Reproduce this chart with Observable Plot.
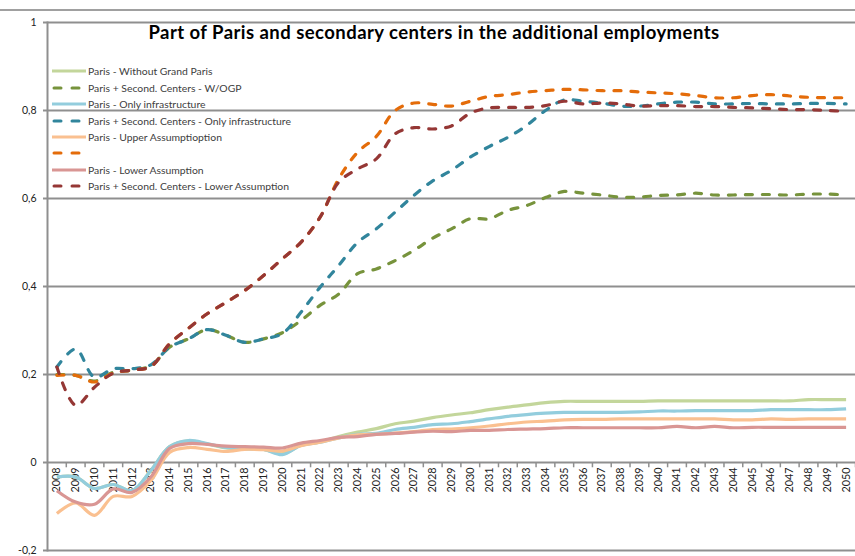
<!DOCTYPE html>
<html>
<head>
<meta charset="utf-8">
<script src="https://cdn.jsdelivr.net/npm/d3@7"></script>
<script src="https://cdn.jsdelivr.net/npm/@observablehq/plot@0.6"></script>
<style>
  html, body { margin: 0; padding: 0; background: #fff; }
  #wrap { position: relative; width: 855px; height: 556px; overflow: hidden; font-family: Lato, "Open Sans", sans-serif; }
  #border { position: absolute; left: 0; top: 9px; width: 855px; height: 0; border-top: 2px solid #a0a0a0; }
  #title { position: absolute; left: 0; top: 21px; width: 868px; text-align: center; font-weight: bold; font-size: 18.5px; letter-spacing: 0.45px; color: #000; }
  #legend { position: absolute; left: 52px; top: 63px; font-size: 10.4px; color: #404040; }
  .row { height: 16.45px; display: flex; align-items: center; white-space: nowrap; }
  .row svg { margin-right: 2px; }
</style>
</head>
<body>
<div id="wrap">
  <div id="chart"></div>
  <div id="border"></div>
  <div id="title"></div>
  <div id="legend"></div>
</div>
<script>
const title = "Part of Paris and secondary centers in the additional employments";

const years = ["2008","2009","2010","2011","2012","2013","2014","2015","2016","2017","2018","2019","2020","2021","2022","2023","2024","2025","2026","2027","2028","2029","2030","2031","2032","2033","2034","2035","2036","2037","2038","2039","2040","2041","2042","2043","2044","2045","2046","2047","2048","2049","2050"];

const yTicks = [-0.2, 0, 0.2, 0.4, 0.6, 0.8, 1];

const seriesNames = [
  "Paris - Without Grand Paris",
  "Paris + Second. Centers - W/OGP",
  "Paris - Only infrastructure",
  "Paris + Second. Centers - Only infrastructure",
  "Paris - Upper Assumptioption",
  "",
  "Paris - Lower Assumption",
  "Paris + Second. Centers - Lower Assumption"
];

const parisWithoutGP = [-0.033,-0.033,-0.059,-0.05,-0.064,-0.018,0.036,0.049,0.042,0.033,0.031,0.03,0.02,0.039,0.047,0.059,0.069,0.077,0.088,0.094,0.102,0.108,0.113,0.12,0.126,0.131,0.136,0.139,0.139,0.139,0.139,0.139,0.14,0.14,0.14,0.14,0.14,0.14,0.14,0.14,0.143,0.143,0.143];
const secondWOGP = [0.2,0.198,0.185,0.205,0.21,0.22,0.262,0.281,0.302,0.289,0.273,0.281,0.295,0.323,0.357,0.383,0.429,0.44,0.459,0.482,0.51,0.531,0.554,0.554,0.573,0.584,0.602,0.616,0.612,0.608,0.603,0.603,0.607,0.608,0.612,0.608,0.608,0.609,0.609,0.608,0.61,0.61,0.608];
const parisOnlyInfra = [-0.033,-0.033,-0.059,-0.05,-0.064,-0.018,0.036,0.05,0.043,0.034,0.031,0.03,0.018,0.039,0.046,0.056,0.064,0.066,0.075,0.08,0.086,0.088,0.093,0.099,0.105,0.109,0.112,0.114,0.114,0.114,0.114,0.115,0.117,0.117,0.118,0.118,0.118,0.118,0.12,0.12,0.12,0.12,0.122];
const secondOnlyInfra = [0.217,0.258,0.194,0.213,0.213,0.222,0.262,0.281,0.302,0.289,0.273,0.281,0.293,0.342,0.398,0.448,0.5,0.531,0.569,0.607,0.64,0.664,0.694,0.718,0.739,0.766,0.8,0.824,0.821,0.817,0.81,0.81,0.815,0.819,0.819,0.815,0.815,0.816,0.815,0.815,0.816,0.816,0.815];
const parisUpper = [-0.116,-0.092,-0.12,-0.077,-0.077,-0.041,0.023,0.034,0.03,0.025,0.03,0.029,0.026,0.038,0.046,0.056,0.063,0.064,0.067,0.07,0.075,0.076,0.079,0.083,0.088,0.092,0.094,0.097,0.098,0.098,0.099,0.099,0.099,0.099,0.099,0.099,0.097,0.097,0.099,0.098,0.099,0.099,0.099];
const secondUpper = [0.198,0.198,0.183,0.203,0.21,0.218,0.27,0.305,0.338,0.364,0.391,0.425,0.463,0.501,0.557,0.645,0.705,0.741,0.8,0.817,0.814,0.81,0.821,0.832,0.836,0.842,0.845,0.848,0.847,0.845,0.845,0.842,0.84,0.838,0.834,0.829,0.829,0.834,0.836,0.833,0.83,0.829,0.829];
const parisLower = [-0.064,-0.09,-0.095,-0.06,-0.068,-0.033,0.032,0.043,0.041,0.037,0.036,0.035,0.033,0.044,0.05,0.057,0.059,0.064,0.066,0.069,0.071,0.07,0.073,0.073,0.075,0.076,0.077,0.079,0.079,0.079,0.079,0.079,0.079,0.082,0.079,0.082,0.079,0.08,0.08,0.08,0.08,0.08,0.08];
const secondLower = [0.217,0.13,0.171,0.203,0.21,0.218,0.27,0.305,0.338,0.364,0.391,0.425,0.463,0.501,0.557,0.637,0.667,0.69,0.747,0.761,0.758,0.765,0.794,0.806,0.807,0.807,0.811,0.821,0.815,0.817,0.815,0.81,0.811,0.811,0.809,0.809,0.807,0.806,0.804,0.802,0.802,0.8,0.798];

const seriesValues = [parisWithoutGP, secondWOGP, parisOnlyInfra, secondOnlyInfra, parisUpper, secondUpper, parisLower, secondLower];
const seriesColors = ["#c3d69b","#77933c","#93cddd","#31859c","#fac090","#e46c0a","#d99694","#953735"];
const seriesDashed = [false,true,false,true,false,true,false,true];

const gridColor = "#8f8f8f";
const dash = "7,10";

const lineMarks = seriesValues.map((vals, i) => {
  const data = years.map((yr, j) => ({year: yr, value: vals[j]}));
  return Plot.line(data, {
    x: "year", y: "value",
    stroke: seriesColors[i], strokeWidth: 3.2,
    strokeDasharray: seriesDashed[i] ? dash : null,
    strokeLinecap: seriesDashed[i] ? "round" : "butt",
    curve: "catmull-rom"
  });
});

const chart = Plot.plot({
  width: 855, height: 556,
  marginLeft: 47, marginRight: 0, marginTop: 22, marginBottom: 6,
  style: {fontFamily: "Lato, 'Open Sans', sans-serif", background: "#fff"},
  x: {type: "point", domain: years, padding: 0.5, axis: null},
  y: {domain: [-0.2, 1], axis: null},
  marks: [
    Plot.ruleY(yTicks, {stroke: gridColor, strokeWidth: 2}),
    Plot.axisY({ticks: yTicks, label: null, tickSize: 4, tickPadding: 7, tickFormat: d => String(d).replace(".", ","), fontSize: 10.5, stroke: gridColor, strokeWidth: 2, color: "#222"}),
    Plot.frame({anchor: "left", stroke: gridColor, strokeWidth: 2}),
    Plot.ruleX(years, {x: d => d, y1: 0, y2: -0.012, dx: 9.4, stroke: gridColor, strokeWidth: 1.5}),
    Plot.text(years, {x: d => d, y: 0, rotate: -90, textAnchor: "end", dy: 5, fontSize: 10.8, fill: "#222"}),
    ...lineMarks
  ]
});
document.getElementById("chart").appendChild(chart);
document.getElementById("title").textContent = title;

const legend = document.getElementById("legend");
seriesNames.forEach((name, i) => {
  const row = document.createElement("div");
  row.className = "row";
  const ns = "http://www.w3.org/2000/svg";
  const svg = document.createElementNS(ns, "svg");
  svg.setAttribute("width", 34); svg.setAttribute("height", 6);
  const ln = document.createElementNS(ns, "line");
  ln.setAttribute("x1", seriesDashed[i] ? 2 : 0); ln.setAttribute("x2", seriesDashed[i] ? 32 : 34);
  ln.setAttribute("y1", 3); ln.setAttribute("y2", 3);
  ln.setAttribute("stroke", seriesColors[i]); ln.setAttribute("stroke-width", 3);
  if (seriesDashed[i]) { ln.setAttribute("stroke-dasharray", "7,11"); ln.setAttribute("stroke-linecap", "round"); }
  svg.appendChild(ln);
  row.appendChild(svg);
  const sp = document.createElement("span");
  sp.textContent = name;
  row.appendChild(sp);
  legend.appendChild(row);
});
</script>
</body>
</html>
